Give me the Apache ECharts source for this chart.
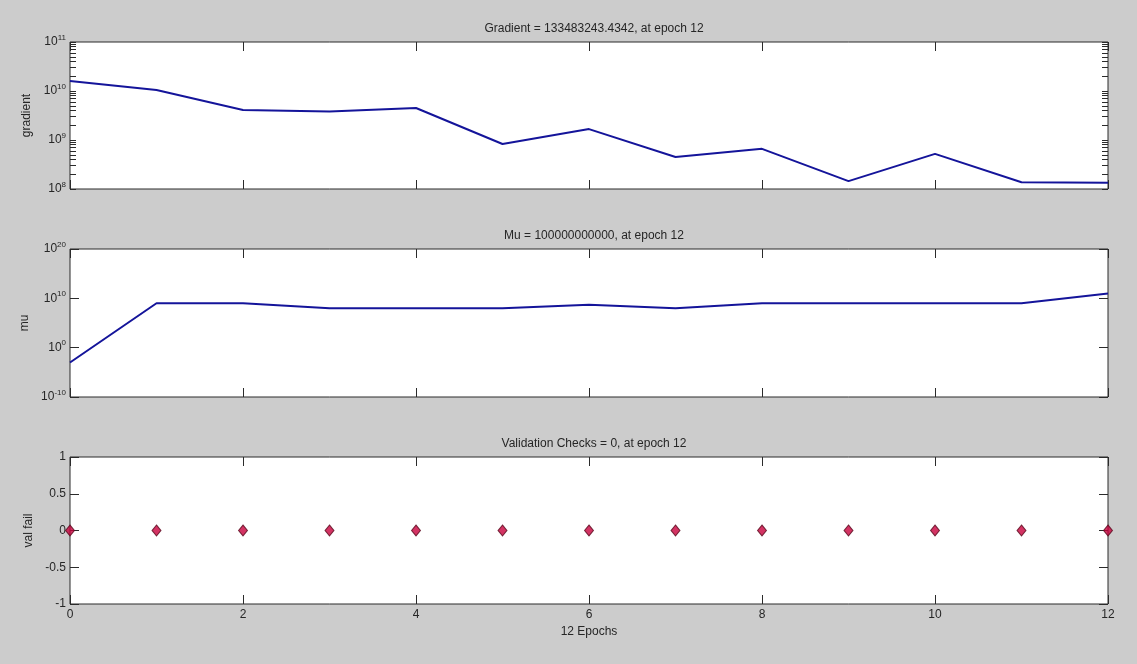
<!DOCTYPE html>
<html>
<head>
<meta charset="utf-8">
<script src="https://cdn.jsdelivr.net/npm/echarts@6/dist/echarts.min.js"></script>
<style>
html,body{margin:0;padding:0;background:#cccccc;}
#main{width:1137px;height:664px;}
</style>
</head>
<body>
<div id="main"></div>
<script>
// ---- data ----
const epochs = [0, 1, 2, 3, 4, 5, 6, 7, 8, 9, 10, 11, 12];
const gradient = [1.6e10, 1.05e10, 4.1e9, 3.8e9, 4.5e9, 8.3e8, 1.67e9, 4.5e8, 6.6e8, 1.45e8, 5.2e8, 1.37e8, 1.33483243e8];
const mu = [1e-3, 1e9, 1e9, 1e8, 1e8, 1e8, 5e8, 1e8, 1e9, 1e9, 1e9, 1e9, 1e11];
const valFail = [0, 0, 0, 0, 0, 0, 0, 0, 0, 0, 0, 0, 0];

const titles = [
  'Gradient = 133483243.4342, at epoch 12',
  'Mu = 100000000000, at epoch 12',
  'Validation Checks = 0, at epoch 12'
];
const yNames = ['gradient', 'mu', 'val fail'];
const xName = '12 Epochs';
const gradLabelTicks = [1e8, 1e9, 1e10, 1e11];
const muLabelTicks = [1e-10, 1, 1e10, 1e20];

// minor ticks for gradient log axis (1..9 in each decade)
const gradMinor = [];
for (let e = 8; e < 11; e++) for (let m = 1; m < 10; m++) gradMinor.push(m * Math.pow(10, e));
gradMinor.push(1e11);

const FONT = "'Liberation Sans', Arial, sans-serif";
const TXT = '#262626';
const AX = '#2b2b2b';

const pair = (arr) => epochs.map((x, i) => [x, arr[i]]);

const grids = [
  {left: 70, right: 29, top: 42, height: 147},
  {left: 70, right: 29, top: 249, height: 148},
  {left: 70, right: 29, top: 457, height: 147}
].map(g => Object.assign(g, {show: true, backgroundColor: '#ffffff', borderColor: AX, borderWidth: 1}));

const supFmt = function (v) {
  const e = Math.round(Math.log10(v));
  return '{b|10}{s|' + e + '}';
};
const supRich = {
  b: {fontSize: 12, fontFamily: FONT, color: TXT},
  s: {fontSize: 8, fontFamily: FONT, color: TXT, padding: [0, 0, 9, 0]}
};

const noLine = {show: false, onZero: false};

const xAxes = [];
const yAxes = [];
for (let g = 0; g < 3; g++) {
  const isBottom = g === 2;
  xAxes.push({
    gridIndex: g, type: 'value', min: 0, max: 12, interval: 2, position: 'bottom',
    axisLine: noLine, splitLine: {show: false},
    axisTick: {show: true, inside: true, length: 9, lineStyle: {color: AX}},
    axisLabel: {show: isBottom, color: TXT, fontSize: 12, fontFamily: FONT, margin: 5},
    name: isBottom ? xName : '', nameLocation: 'middle', nameGap: 22,
    nameTextStyle: {color: TXT, fontSize: 12, fontFamily: FONT}
  });
  xAxes.push({
    gridIndex: g, type: 'value', min: 0, max: 12, interval: 2, position: 'top',
    axisLine: noLine, splitLine: {show: false},
    axisTick: {show: true, inside: true, length: 9, lineStyle: {color: AX}},
    axisLabel: {show: false}
  });
}

function yAxisPair(g, base, pos) {
  return Object.assign({gridIndex: g, position: pos, axisLine: noLine, splitLine: {show: false}}, base);
}
const yName = (i) => ({
  name: yNames[i], nameLocation: 'middle', nameGap: 29, nameRotate: 90,
  nameTextStyle: {color: TXT, fontSize: 12, fontFamily: FONT}
});

// gradient panel
const gBase = {
  type: 'log', logBase: 10, min: 1e8, max: 1e11,
  axisTick: {show: true, inside: true, length: 6, customValues: gradMinor, lineStyle: {color: AX}},
};
yAxes.push(yAxisPair(0, Object.assign({}, gBase, {
  axisLabel: {show: true, customValues: gradLabelTicks, formatter: supFmt, rich: supRich, margin: 4}
}, yName(0)), 'left'));
yAxes.push(yAxisPair(0, Object.assign({}, gBase, {axisLabel: {show: false}}), 'right'));

// mu panel
const mBase = {
  type: 'log', logBase: 10, min: 1e-10, max: 1e20,
  axisTick: {show: true, inside: true, length: 9, customValues: muLabelTicks, lineStyle: {color: AX}},
};
yAxes.push(yAxisPair(1, Object.assign({}, mBase, {
  axisLabel: {show: true, customValues: muLabelTicks, formatter: supFmt, rich: supRich, margin: 4}
}, yName(1)), 'left'));
yAxes.push(yAxisPair(1, Object.assign({}, mBase, {axisLabel: {show: false}}), 'right'));

// val fail panel
const vBase = {
  type: 'value', min: -1, max: 1, interval: 0.5,
  axisTick: {show: true, inside: true, length: 9, lineStyle: {color: AX}},
};
yAxes.push(yAxisPair(2, Object.assign({}, vBase, {
  axisLabel: {show: true, color: TXT, fontSize: 12, fontFamily: FONT, margin: 4}
}, yName(2)), 'left'));
yAxes.push(yAxisPair(2, Object.assign({}, vBase, {axisLabel: {show: false}}), 'right'));

const titleTops = [18, 225, 433];
const option = {
  backgroundColor: '#cccccc',
  animation: false,
  title: titles.map((t, i) => ({
    text: t, left: 589, top: titleTops[i], textAlign: 'center',
    textStyle: {color: TXT, fontSize: 12, fontWeight: 'normal', fontFamily: FONT}
  })),
  grid: grids,
  xAxis: xAxes,
  yAxis: yAxes,
  series: [
    {type: 'line', xAxisIndex: 0, yAxisIndex: 0, data: pair(gradient), showSymbol: false,
     lineStyle: {color: '#14149a', width: 2}},
    {type: 'line', xAxisIndex: 2, yAxisIndex: 2, data: pair(mu), showSymbol: false,
     lineStyle: {color: '#14149a', width: 2}},
    {type: 'scatter', xAxisIndex: 4, yAxisIndex: 4, data: pair(valFail), symbol: 'diamond',
     symbolSize: [9, 11], clip: false,
     itemStyle: {color: '#c8003c', borderColor: '#5a0a1e', borderWidth: 1}}
  ]
};
const chart = echarts.init(document.getElementById('main'), null, {renderer: 'canvas'});
chart.setOption(option);
</script>
</body>
</html>
